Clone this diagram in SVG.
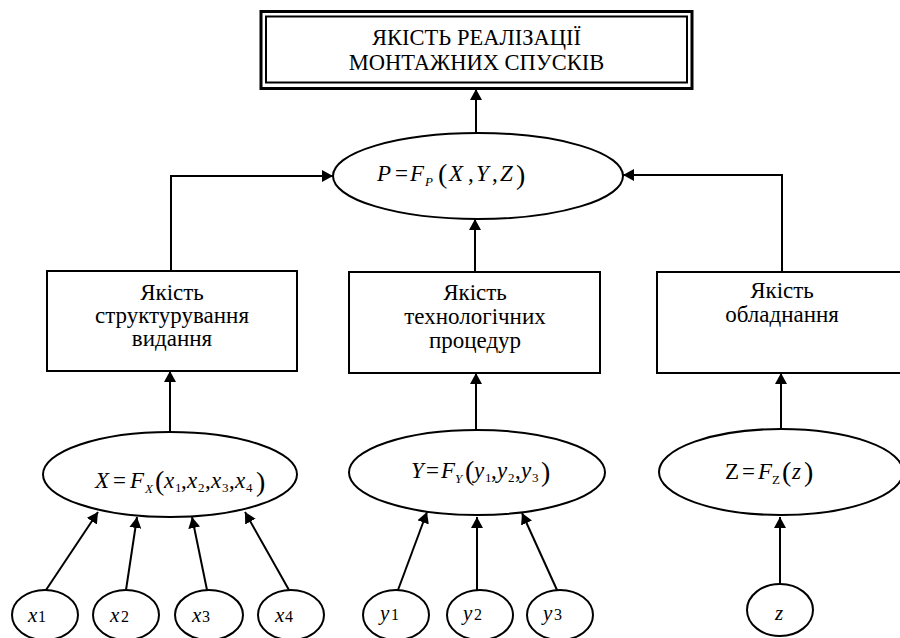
<svg xmlns="http://www.w3.org/2000/svg" width="900" height="638" viewBox="0 0 900 638" font-family="'Liberation Serif', 'Times New Roman', serif">
<defs>
<marker id="ah" markerUnits="userSpaceOnUse" markerWidth="12" markerHeight="12" refX="11" refY="6" orient="auto">
<path d="M0,0 L11,6 L0,12 Z" fill="#000"/>
</marker>
<style>
.shape{fill:#fff;stroke:#000;stroke-width:2}
.con{fill:none;stroke:#000;stroke-width:2;marker-end:url(#ah)}
text{font-family:"Liberation Serif","Times New Roman",serif;fill:#000}
.lbl{font-size:23px;text-anchor:middle}
.ttl{font-size:22.5px;text-anchor:middle}
.f{font-size:23px}
.i{font-style:italic}
.s{font-size:13px}
.pr{font-size:28px}
.v{font-size:21px}
.vs{font-size:16px}
</style>
</defs>
<rect width="900" height="638" fill="#fff"/>

<g id="connectors">
<path class="con" d="M476,133 L476,89"/>
<path class="con" d="M171,270 L171,176 L333,176"/>
<path class="con" d="M782,272 L782,175 L623,175"/>
<path class="con" d="M475,272 L475,219"/>
<path class="con" d="M170,432 L170,371"/>
<path class="con" d="M476,430 L476,373"/>
<path class="con" d="M781,429 L781,373"/>
<path class="con" d="M46,590 L98,512"/>
<path class="con" d="M126,590 L137,517"/>
<path class="con" d="M207,590 L192,517"/>
<path class="con" d="M289,590 L245,512"/>
<path class="con" d="M398,590 L427,512"/>
<path class="con" d="M477,590 L477,517"/>
<path class="con" d="M557,590 L522,513"/>
<path class="con" d="M780,584 L780,517"/>
</g>

<g id="title">
<rect x="261" y="11.5" width="431" height="77" fill="#fff" stroke="#000" stroke-width="3"/>
<rect x="266" y="16.5" width="421" height="66" fill="none" stroke="#000" stroke-width="2"/>
<text class="ttl" x="476.5" y="45">ЯКІСТЬ РЕАЛІЗАЦІЇ</text>
<text class="ttl" x="476.5" y="70">МОНТАЖНИХ СПУСКІВ</text>
</g>

<g id="P">
<ellipse class="shape" cx="478" cy="176" rx="145" ry="43"/>
<text class="f" y="181"><tspan class="i" x="377">P</tspan><tspan x="395">=</tspan><tspan class="i" x="410">F</tspan><tspan class="i s" x="425" dy="5">P</tspan><tspan class="pr" x="438" dy="-3">(</tspan><tspan class="i" x="449" dy="-2">X</tspan><tspan x="468">,</tspan><tspan class="i" x="476">Y</tspan><tspan x="492">,</tspan><tspan class="i" x="500">Z</tspan><tspan class="pr" x="516" dy="3">)</tspan></text>
</g>

<g id="box1">
<rect class="shape" x="47" y="271" width="250" height="100"/>
<text class="lbl" x="172" y="300">Якість</text>
<text class="lbl" x="172" y="323">структурування</text>
<text class="lbl" x="172" y="346">видання</text>
</g>

<g id="box2">
<rect class="shape" x="349" y="272" width="251" height="101"/>
<text class="lbl" x="475" y="300">Якість</text>
<text class="lbl" x="475" y="324">технологічних</text>
<text class="lbl" x="475" y="348">процедур</text>
</g>

<g id="box3">
<rect class="shape" x="657" y="272" width="250" height="101"/>
<text class="lbl" x="782" y="298">Якість</text>
<text class="lbl" x="782" y="322">обладнання</text>
</g>

<g id="X">
<ellipse class="shape" cx="170" cy="474.5" rx="127" ry="42.5"/>
<text class="f" y="488"><tspan class="i" x="95">X</tspan><tspan x="113">=</tspan><tspan class="i" x="130">F</tspan><tspan class="i s" x="145" dy="5">X</tspan><tspan class="pr" x="155" dy="-3">(</tspan><tspan class="i" x="164" dy="-2">x</tspan><tspan class="s" x="175" dy="4">1</tspan><tspan x="181" dy="-4">,</tspan><tspan class="i" x="187">x</tspan><tspan class="s" x="198" dy="4">2</tspan><tspan x="205" dy="-4">,</tspan><tspan class="i" x="211">x</tspan><tspan class="s" x="222" dy="4">3</tspan><tspan x="229" dy="-4">,</tspan><tspan class="i" x="235">x</tspan><tspan class="s" x="246" dy="4">4</tspan><tspan class="pr" x="256" dy="-1">)</tspan></text>
</g>

<g id="Y">
<ellipse class="shape" cx="477" cy="472.5" rx="128" ry="42.5"/>
<text class="f" y="478"><tspan class="i" x="411">Y</tspan><tspan x="426">=</tspan><tspan class="i" x="441">F</tspan><tspan class="i s" x="455" dy="5">Y</tspan><tspan class="pr" x="465" dy="-3">(</tspan><tspan class="i" x="474" dy="-2">y</tspan><tspan class="s" x="485" dy="4">1</tspan><tspan x="491" dy="-4">,</tspan><tspan class="i" x="497">y</tspan><tspan class="s" x="508" dy="4">2</tspan><tspan x="515" dy="-4">,</tspan><tspan class="i" x="521">y</tspan><tspan class="s" x="532" dy="4">3</tspan><tspan class="pr" x="541" dy="-1">)</tspan></text>
</g>

<g id="Z">
<ellipse class="shape" cx="781" cy="472" rx="122" ry="43"/>
<text class="f" y="479"><tspan x="725">Z</tspan><tspan x="742">=</tspan><tspan class="i" x="758">F</tspan><tspan class="s" x="772" dy="5">Z</tspan><tspan class="pr" x="782" dy="-3">(</tspan><tspan class="i" x="792" dy="-2">z</tspan><tspan class="pr" x="804" dy="2">)</tspan></text>
</g>

<g id="x1"><ellipse class="shape" cx="45" cy="615" rx="33" ry="25"/><text y="622"><tspan class="i v" x="28">x</tspan><tspan class="vs" x="38">1</tspan></text></g>
<g id="x2"><ellipse class="shape" cx="126" cy="615" rx="33" ry="25"/><text y="622"><tspan class="i v" x="110">x</tspan><tspan class="vs" x="121">2</tspan></text></g>
<g id="x3"><ellipse class="shape" cx="209" cy="615" rx="34" ry="25"/><text y="622"><tspan class="i v" x="192">x</tspan><tspan class="vs" x="202">3</tspan></text></g>
<g id="x4"><ellipse class="shape" cx="291" cy="615" rx="33" ry="25"/><text y="622"><tspan class="i v" x="275">x</tspan><tspan class="vs" x="285">4</tspan></text></g>
<g id="y1"><ellipse class="shape" cx="396" cy="615" rx="33" ry="25"/><text y="620"><tspan class="i v" x="380">y</tspan><tspan class="vs" x="391">1</tspan></text></g>
<g id="y2"><ellipse class="shape" cx="480" cy="615" rx="33" ry="25"/><text y="620"><tspan class="i v" x="463">y</tspan><tspan class="vs" x="474">2</tspan></text></g>
<g id="y3"><ellipse class="shape" cx="560" cy="615" rx="33" ry="25"/><text y="620"><tspan class="i v" x="543">y</tspan><tspan class="vs" x="554">3</tspan></text></g>
<g id="z"><ellipse class="shape" cx="780" cy="610" rx="33" ry="26"/><text class="i v" x="775" y="620">z</text></g>
</svg>
